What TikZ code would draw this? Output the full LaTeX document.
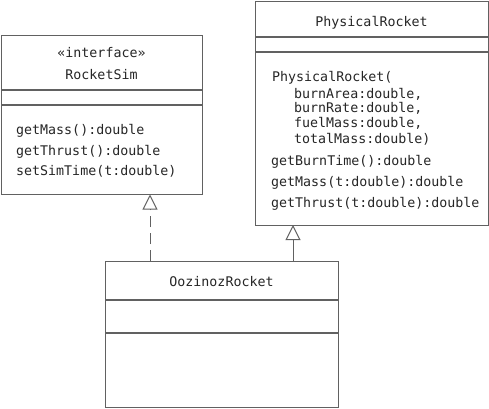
\documentclass[tikz,border=0pt]{standalone}
\usepackage{fontspec}
\setmonofont{DejaVu Sans Mono}
\usetikzlibrary{arrows.meta}
\definecolor{lc}{gray}{0.38}
\definecolor{tc}{gray}{0.15}
\begin{document}
\begin{tikzpicture}[x=1pt,y=-1pt,
  box/.style={draw=lc, line width=1.2pt, inner sep=0pt, anchor=north west},
  sep/.style={draw=lc, line width=1.2pt},
  txt/.style={inner sep=0pt, anchor=base west, text=tc, font=\ttfamily\fontsize{13.3}{15}\selectfont},
  ttl/.style={inner sep=0pt, anchor=base, text=tc, font=\ttfamily\fontsize{13.3}{15}\selectfont},
  conn/.style={draw=lc, line width=0.9pt},
  tip/.style={-{Triangle[open, length=15pt, width=15pt, line width=1pt]}}
]
\useasboundingbox (0,0) rectangle (489,408);
\fill[white] (0,0) rectangle (489,408);

% RocketSim
\node[box, minimum width=201pt, minimum height=159pt] (rs) at (1,35) {};
\draw[sep] (1,90) -- (202,90);
\draw[sep] (1,105) -- (202,105);
\node[ttl] (rsst) at (101.5,57) {«interface»};
\node[ttl] (rsname) at (101.5,79) {RocketSim};
\node[txt] (rs1) at (16,134) {getMass():double};
\node[txt] (rs2) at (16,155) {getThrust():double};
\node[txt] (rs3) at (16,175) {setSimTime(t:double)};

% PhysicalRocket
\node[box, minimum width=233pt, minimum height=224pt] (pr) at (255,1) {};
\draw[sep] (255,37) -- (488,37);
\draw[sep] (255,52) -- (488,52);
\node[ttl] (prname) at (371.5,26) {PhysicalRocket};
\node[txt] (pr0) at (272,81) {PhysicalRocket(};
\node[txt] (pr1) at (294,98) {burnArea:double,};
\node[txt] (pr2) at (294,112) {burnRate:double,};
\node[txt] (pr3) at (294,127) {fuelMass:double,};
\node[txt] (pr4) at (294,143) {totalMass:double)};
\node[txt] (pr5) at (271,165) {getBurnTime():double};
\node[txt] (pr6) at (271,186) {getMass(t:double):double};
\node[txt] (pr7) at (271,207) {getThrust(t:double):double};

% OozinozRocket
\node[box, minimum width=233pt, minimum height=146pt] (oz) at (105,261) {};
\draw[sep] (105,300) -- (338,300);
\draw[sep] (105,333) -- (338,333);
\node[ttl] (ozname) at (221.5,286) {OozinozRocket};

% connectors
\coordinate (a1) at (150,261);
\coordinate (a2) at (150,194.5);
\coordinate (b1) at (293,261);
\coordinate (b2) at (293,225);
\draw[conn, tip, dash pattern=on 11pt off 6pt] (a1) -- (a2);
\draw[conn, tip] (b1) -- (b2);
\end{tikzpicture}
\end{document}
